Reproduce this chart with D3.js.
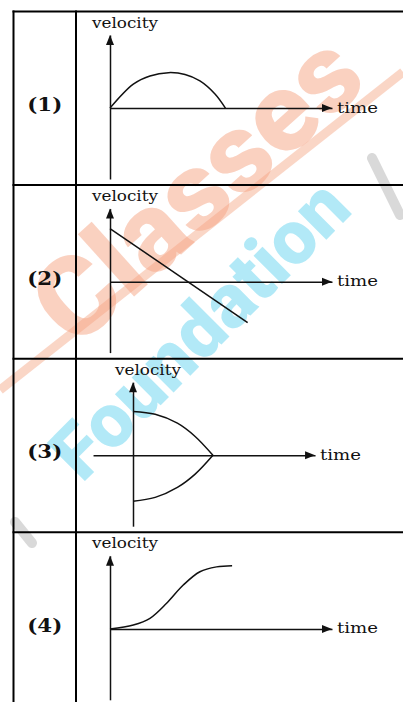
<!DOCTYPE html>
<html>
<head>
<meta charset="utf-8">
<script src="https://cdn.jsdelivr.net/npm/d3@7"></script>
<style>
  body { margin: 0; background: #fff; }
  svg { display: block; }
  .lbl { font-family: "DejaVu Serif", serif; fill: #111; }
</style>
</head>
<body>
<div id="chart"></div>
<script>
// row labels and axis names
var rowLabels = ["(1)", "(2)", "(3)", "(4)"];
var xName = "time";
var yName = "velocity";

// where each time axis starts (panel 3 goes a bit negative)
var tStart = [0, 0, -1.8, 0];

// curves (t, v)
var curve1 = [
  {t: 0, v: 0}, {t: 1.05, v: 1.08}, {t: 1.8, v: 1.45}, {t: 2.63, v: 1.6},
  {t: 3.38, v: 1.52}, {t: 4.05, v: 1.23}, {t: 4.73, v: 0.64}, {t: 5.2, v: 0}
];
var line2 = [{t: 0, v: 2.4}, {t: 6.2, v: -1.85}];
var curve3Up = [
  {t: 0, v: 1.98}, {t: 1.0, v: 1.85}, {t: 2.0, v: 1.45}, {t: 2.8, v: 0.85}, {t: 3.6, v: 0}
];
var curve3Down = [
  {t: 0, v: -2.07}, {t: 1.0, v: -1.9}, {t: 2.0, v: -1.45}, {t: 2.8, v: -0.85}, {t: 3.6, v: 0}
];
var curve4 = [
  {t: 0, v: 0}, {t: 1.05, v: 0.18}, {t: 1.8, v: 0.48}, {t: 2.55, v: 1.16},
  {t: 3.3, v: 1.98}, {t: 4.05, v: 2.58}, {t: 4.8, v: 2.8}, {t: 5.5, v: 2.85}
];

var panelCurves = [[curve1], [line2], [curve3Up, curve3Down], [curve4]];

var W = 403, H = 702;
var tableLeft = 13.5, colX = 76, tableTop = 11.5, rowH = 173.6;
var originX = [110, 110, 133, 110];

var svg = d3.select("#chart").append("svg")
  .attr("width", W)
  .attr("height", H);

// watermark behind everything
var wm = svg.append("g").attr("class", "watermark");
wm.append("line")
  .attr("x1", 0).attr("y1", 390).attr("x2", 403).attr("y2", 72)
  .attr("stroke", "#f6a583").attr("stroke-width", 9).attr("opacity", 0.45);
wm.append("text")
  .attr("transform", "translate(75,350) rotate(-42)")
  .attr("font-family", "Roboto, sans-serif").attr("font-weight", 900)
  .attr("font-size", 112).attr("fill", "#f7a483").attr("opacity", 0.5)
  .text("Classes");
wm.append("text")
  .attr("transform", "translate(82,484) rotate(-45)")
  .attr("font-family", "Roboto, sans-serif").attr("font-weight", 900)
  .attr("font-size", 76).attr("fill", "#7fdcf3").attr("opacity", 0.6)
  .text("Foundation");
wm.append("line")
  .attr("x1", 372).attr("y1", 158).attr("x2", 400).attr("y2", 215)
  .attr("stroke", "#bbb").attr("stroke-width", 10).attr("stroke-linecap", "round").attr("opacity", 0.55);
wm.append("line")
  .attr("x1", 15).attr("y1", 522).attr("x2", 32).attr("y2", 543)
  .attr("stroke", "#bbb").attr("stroke-width", 10).attr("stroke-linecap", "round").attr("opacity", 0.55);

// table grid
var grid = svg.append("g").attr("stroke", "#000").attr("stroke-width", 2);
grid.append("line").attr("x1", tableLeft).attr("x2", tableLeft).attr("y1", tableTop - 1).attr("y2", H);
grid.append("line").attr("x1", colX).attr("x2", colX).attr("y1", tableTop - 1).attr("y2", H);
for (var r = 0; r < 4; r++) {
  var yy = tableTop + r * rowH;
  grid.append("line").attr("x1", tableLeft - 1).attr("x2", W).attr("y1", yy).attr("y2", yy);
}

var k = 22.2; // pixels per unit

rowLabels.forEach(function(lab, i) {
  var top = tableTop + i * rowH;
  var x = d3.scaleLinear()
    .domain([tStart[i], tStart[i] + 10])
    .range([originX[i] + tStart[i] * k, originX[i] + tStart[i] * k + 10 * k]);
  var y = d3.scaleLinear()
    .domain([-3.2, 3.3])
    .range([top + 167.5, top + 23.5]);

  var g = svg.append("g");

  g.append("g")
    .attr("transform", "translate(0," + y(0) + ")")
    .call(d3.axisBottom(x).ticks(0).tickSizeOuter(0));
  g.append("g")
    .attr("transform", "translate(" + x(0) + ",0)")
    .call(d3.axisLeft(y).ticks(0).tickSizeOuter(0));
  g.selectAll(".domain").attr("stroke", "#111").attr("stroke-width", 1.5);

  // arrow heads
  var xEnd = x.range()[1], yTop = y.range()[1];
  g.append("path")
    .attr("d", "M" + xEnd + "," + y(0) + "l-10,-4l0,8z")
    .attr("fill", "#111");
  g.append("path")
    .attr("d", "M" + x(0) + "," + yTop + "l-4,10l8,0z")
    .attr("fill", "#111");

  // axis names
  g.append("text").attr("class", "lbl")
    .attr("x", xEnd + 5).attr("y", y(0) + 4.5)
    .attr("font-size", 15)
    .attr("textLength", 41).attr("lengthAdjust", "spacingAndGlyphs")
    .text(xName);
  g.append("text").attr("class", "lbl")
    .attr("x", x(0) - 18).attr("y", top + 16)
    .attr("font-size", 15)
    .attr("textLength", 66).attr("lengthAdjust", "spacingAndGlyphs")
    .text(yName);

  // row label
  g.append("text").attr("class", "lbl")
    .attr("x", (tableLeft + colX) / 2).attr("y", y(0) + 3)
    .attr("text-anchor", "middle")
    .attr("font-size", 19).attr("font-weight", "bold")
    .attr("textLength", 35).attr("lengthAdjust", "spacingAndGlyphs")
    .text(lab);

  var line = d3.line()
    .x(function(d) { return x(d.t); })
    .y(function(d) { return y(d.v); })
    .curve(i == 1 ? d3.curveLinear : d3.curveCatmullRom);

  panelCurves[i].forEach(function(c) {
    g.append("path")
      .attr("d", line(c))
      .attr("fill", "none")
      .attr("stroke", "#111")
      .attr("stroke-width", 1.5);
  });
});
</script>
</body>
</html>
